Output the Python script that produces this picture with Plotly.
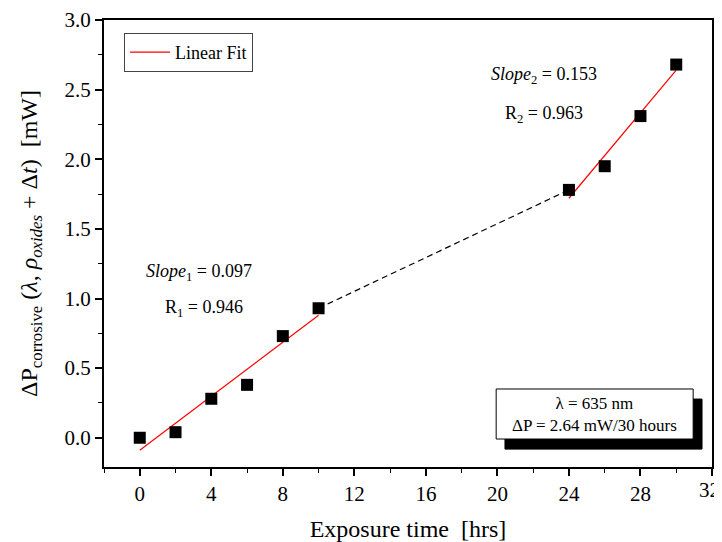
import plotly.graph_objects as go

time_hrs = [0, 2, 4, 6, 8, 10, 24, 26, 28, 30]
delta_p = [0.0, 0.04, 0.28, 0.38, 0.73, 0.93, 1.78, 1.95, 2.31, 2.68]

fit1_x = [0, 10]
fit1_y = [-0.09, 0.88]
fit2_x = [24, 30]
fit2_y = [1.72, 2.64]
gap_x = [10, 24]
gap_y = [0.93, 1.78]

x_ticks = [0, 4, 8, 12, 16, 20, 24, 28, 32]
x_ticklabels = ["0", "4", "8", "12", "16", "20", "24", "28", ""]
x_last_label = "32"
x_minor = [-2, 2, 6, 10, 14, 18, 22, 26, 30]
y_ticks = [0, 0.5, 1.0, 1.5, 2.0, 2.5, 3.0]
y_ticklabels = ["0.0", "0.5", "1.0", "1.5", "2.0", "2.5", "3.0"]
y_minor = [0.25, 0.75, 1.25, 1.75, 2.25, 2.75]

FONT = "Liberation Serif"

fig = go.Figure()
fig.add_trace(go.Scatter(x=fit1_x, y=fit1_y, mode="lines", name="Linear Fit",
                         line=dict(color="red", width=1.2), showlegend=True))
fig.add_trace(go.Scatter(x=fit2_x, y=fit2_y, mode="lines", name="Linear Fit 2",
                         line=dict(color="red", width=1.2), showlegend=False))
fig.add_trace(go.Scatter(x=gap_x, y=gap_y, mode="lines",
                         line=dict(color="black", width=1.2, dash="6px,4px"), showlegend=False))
fig.add_trace(go.Scatter(x=time_hrs, y=delta_p, mode="markers",
                         marker=dict(symbol="square", size=12, color="black"), showlegend=False))

# info box with shadow
fig.add_shape(type="rect", xref="paper", yref="paper", x0=0.6595, x1=0.9836, y0=0.040, y1=0.152,
              fillcolor="black", line=dict(color="black", width=1), layer="above")
fig.add_shape(type="rect", xref="paper", yref="paper", x0=0.645, x1=0.969, y0=0.0626, y1=0.1745,
              fillcolor="white", line=dict(color="black", width=1), layer="above")
fig.add_annotation(xref="paper", yref="paper", x=0.807, y=0.1185, xanchor="center", yanchor="middle",
                   showarrow=False,
                   text="λ = 635 nm<br>ΔP = 2.64 mW/30 hours",
                   font=dict(family=FONT, size=17, color="black"), align="center")

ann_font = dict(family=FONT, size=18, color="black")
fig.add_annotation(x=22.6, y=2.60, text="<i>Slope</i><sub>2</sub> = 0.153", showarrow=False, font=ann_font)
fig.add_annotation(x=22.6, y=2.32, text="R<sub>2</sub> = 0.963", showarrow=False, font=ann_font)
fig.add_annotation(x=3.3, y=1.19, text="<i>Slope</i><sub>1</sub> = 0.097", showarrow=False, font=ann_font)
fig.add_annotation(x=3.6, y=0.93, text="R<sub>1</sub> = 0.946", showarrow=False, font=ann_font)

# last x tick label, nudged inward so it is not clipped at the page edge
fig.add_annotation(x=x_ticks[-1], xref="x", y=0, yref="paper", xanchor="center", yanchor="top",
                   xshift=-3, yshift=-9, showarrow=False, text=x_last_label,
                   font=dict(family=FONT, size=21, color="black"))

fig.update_layout(
    width=722, height=534,
    margin=dict(l=96, r=18, t=12, b=75),
    plot_bgcolor="white", paper_bgcolor="white",
    font=dict(family=FONT, size=21, color="black"),
    legend=dict(x=0.033, y=0.971, xanchor="left", yanchor="top",
                bordercolor="#444", borderwidth=1, bgcolor="white",
                font=dict(family=FONT, size=18), itemwidth=40),
    xaxis=dict(range=[-2, 32], tickmode="array", tickvals=x_ticks, ticktext=x_ticklabels, automargin=False,
               ticks="outside", ticklen=7, tickwidth=1.5, tickcolor="black",
               minor=dict(tickvals=x_minor, ticks="outside", ticklen=4, tickwidth=1.2, tickcolor="black"),
               showline=True, linecolor="black", linewidth=2, mirror=True, showgrid=False, zeroline=False,
               title=dict(text="Exposure time  [hrs]", font=dict(family=FONT, size=24), standoff=16),
               tickfont=dict(family=FONT, size=21)),
    yaxis=dict(range=[-0.21, 3.0], tickmode="array", tickvals=y_ticks, ticktext=y_ticklabels, automargin=False,
               ticks="outside", ticklen=7, tickwidth=1.5, tickcolor="black",
               minor=dict(tickvals=y_minor, ticks="outside", ticklen=4, tickwidth=1.2, tickcolor="black"),
               showline=True, linecolor="black", linewidth=2, mirror=True, showgrid=False, zeroline=False,
               title=dict(text="ΔP<sub>corrosive</sub> (<i>λ</i>, <i>ρ<sub>oxides</sub></i> + Δ<i>t</i>)  [mW]",
                          font=dict(family=FONT, size=24), standoff=20),
               tickfont=dict(family=FONT, size=21)),
)

fig.write_html("out.html")
